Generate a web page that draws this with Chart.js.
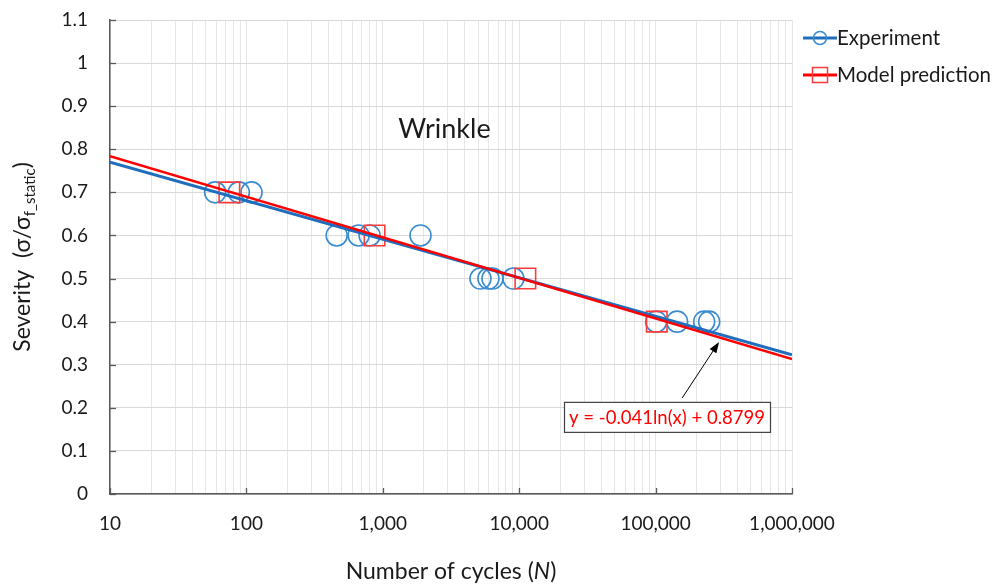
<!DOCTYPE html>
<html><head><meta charset="utf-8">
<script src="https://cdn.jsdelivr.net/npm/chart.js@4.4.1/dist/chart.umd.min.js"></script>
<style>html,body{margin:0;padding:0;background:#fff}#wrap{width:1000px;height:587px}</style>
</head><body><div id="wrap"><canvas id="c" width="1000" height="587"></canvas></div>
<script>
// ---- data ----
const expCycles   = [59, 88, 109, 459, 665, 800, 1890, 5200, 5950, 6370, 9070, 100900, 143800, 227000, 247000];
const expSeverity = [0.7, 0.7, 0.7, 0.6, 0.6, 0.6, 0.6, 0.5, 0.5, 0.5, 0.5, 0.4, 0.4, 0.4, 0.4];
const modelCycles   = [75, 870, 11100, 102000];
const modelSeverity = [0.7, 0.6, 0.5, 0.4];
const trendCycles   = [10, 1000000];
const expTrend      = [0.770, 0.323];
const modelTrend    = [0.784, 0.313];
const xDecades    = [10, 100, 1000, 10000, 100000, 1000000];
const xTickLabels = ['10', '100', '1,000', '10,000', '100,000', '1,000,000'];
const yTickValues = [0, 0.1, 0.2, 0.3, 0.4, 0.5, 0.6, 0.7, 0.8, 0.9, 1.0, 1.1];
const seriesNames = ['Experiment', 'Model prediction'];
const annotationText = 'Wrinkle';
const equationText = 'y = -0.041ln(x) + 0.8799';

const FONT = 'Lato, "Open Sans", sans-serif';
const BLUE_PT = '#3a8bd0', BLUE_LN = '#1f6ebd', RED = '#ff0000', RED_PT = '#ff3b3b';

const pts = (xs, ys) => xs.map((v, i) => ({x: v, y: ys[i]}));

const extras = {
  id: 'extras',
  afterDraw(chart) {
    const {ctx, chartArea: a, scales: {x, y}} = chart;
    ctx.save();
    // inward tick marks
    ctx.strokeStyle = '#595959'; ctx.lineWidth = 1.3;
    yTickValues.forEach(v => { const py = Math.round(y.getPixelForValue(v)) + 0.5;
      ctx.beginPath(); ctx.moveTo(a.left, py); ctx.lineTo(a.left + 6, py); ctx.stroke(); });
    xDecades.forEach(v => { const px = Math.round(x.getPixelForValue(v)) + 0.5;
      ctx.beginPath(); ctx.moveTo(px, a.bottom); ctx.lineTo(px, a.bottom - 6); ctx.stroke(); });

    ctx.fillStyle = '#1a1a1a'; ctx.textBaseline = 'alphabetic';
    // x title with italic N
    const XF = 23;
    ctx.font = XF + 'px ' + FONT;
    const p1 = 'Number of cycles (', p3 = ')';
    const w1 = ctx.measureText(p1).width, w3 = ctx.measureText(p3).width;
    ctx.font = 'italic ' + XF + 'px ' + FONT; const w2 = ctx.measureText('N').width;
    const tot = w1 + w2 + w3; let sx = (a.left + a.right) / 2 - tot / 2; const ty = 579;
    ctx.font = XF + 'px ' + FONT; ctx.textAlign = 'left'; ctx.fillText(p1, sx, ty);
    ctx.font = 'italic ' + XF + 'px ' + FONT; ctx.fillText('N', sx + w1, ty);
    ctx.font = XF + 'px ' + FONT; ctx.fillText(p3, sx + w1 + w2, ty);

    // y title with subscript
    ctx.save();
    ctx.translate(30, (a.top + a.bottom) / 2); ctx.rotate(-Math.PI / 2);
    const m1 = 'Severity  (σ/σ', sub = 'f_static', m3 = ')';
    ctx.font = '23px ' + FONT; const v1 = ctx.measureText(m1).width, v3 = ctx.measureText(m3).width;
    ctx.font = '15px ' + FONT; const v2 = ctx.measureText(sub).width;
    let s = -(v1 + v2 + v3) / 2;
    ctx.font = '23px ' + FONT; ctx.fillText(m1, s, 0);
    ctx.font = '15px ' + FONT; ctx.fillText(sub, s + v1, 5);
    ctx.font = '23px ' + FONT; ctx.fillText(m3, s + v1 + v2, 0);
    ctx.restore();

    // Wrinkle label
    ctx.font = '27px ' + FONT; ctx.textAlign = 'center'; ctx.textBaseline = 'middle';
    ctx.fillText(annotationText, x.getPixelForValue(2830), y.getPixelForValue(0.846));

    // equation box
    const by = y.getPixelForValue(0.179);
    ctx.fillStyle = '#fff'; ctx.fillRect(564, by - 15, 206, 30);
    ctx.strokeStyle = '#404040'; ctx.lineWidth = 1.2; ctx.strokeRect(564.5, by - 15 + 0.5, 206, 30);
    ctx.fillStyle = RED; ctx.font = '18.5px ' + FONT;
    ctx.fillText(equationText, 667, by + 1);

    // arrow
    const tx = x.getPixelForValue(156700), tyy = y.getPixelForValue(0.223);
    const hx = x.getPixelForValue(292000), hy = y.getPixelForValue(0.353);
    const ang = Math.atan2(hy - tyy, hx - tx);
    ctx.strokeStyle = '#000'; ctx.lineWidth = 1;
    ctx.beginPath(); ctx.moveTo(tx, tyy); ctx.lineTo(hx - 8 * Math.cos(ang), hy - 8 * Math.sin(ang)); ctx.stroke();
    ctx.fillStyle = '#000'; ctx.beginPath();
    ctx.moveTo(hx, hy);
    ctx.lineTo(hx - 11 * Math.cos(ang) + 4 * Math.sin(ang), hy - 11 * Math.sin(ang) - 4 * Math.cos(ang));
    ctx.lineTo(hx - 11 * Math.cos(ang) - 4 * Math.sin(ang), hy - 11 * Math.sin(ang) + 4 * Math.cos(ang));
    ctx.closePath(); ctx.fill();

    // legend
    ctx.textAlign = 'left'; ctx.textBaseline = 'middle'; ctx.font = '20.5px ' + FONT;
    const ly = [38, 75];
    ctx.strokeStyle = BLUE_LN; ctx.lineWidth = 3;
    ctx.beginPath(); ctx.moveTo(803, ly[0]); ctx.lineTo(837, ly[0]); ctx.stroke();
    ctx.strokeStyle = BLUE_PT; ctx.lineWidth = 1.5;
    ctx.beginPath(); ctx.arc(820, ly[0], 6.5, 0, Math.PI * 2); ctx.stroke();
    ctx.fillStyle = '#1a1a1a'; ctx.fillText(seriesNames[0], 837, ly[0]);
    ctx.strokeStyle = RED; ctx.lineWidth = 3;
    ctx.beginPath(); ctx.moveTo(803, ly[1]); ctx.lineTo(837, ly[1]); ctx.stroke();
    ctx.strokeStyle = RED_PT; ctx.lineWidth = 1.5;
    ctx.strokeRect(812.5, ly[1] - 7.5, 15, 15);
    ctx.fillStyle = '#1a1a1a'; ctx.fillText(seriesNames[1], 837, ly[1]);
    ctx.restore();
  }
};

const minorTicks = [];
xDecades.forEach((d, i) => { if (i < xDecades.length - 1) { for (let k = 1; k <= 9; k++) minorTicks.push(d * k); } else minorTicks.push(d); });

new Chart(document.getElementById('c'), {
  type: 'scatter',
  data: {
    datasets: [
      {label: seriesNames[0], data: pts(expCycles, expSeverity), pointStyle: 'circle', pointRadius: 10.5,
       borderColor: BLUE_PT, backgroundColor: 'rgba(0,0,0,0)', borderWidth: 1.6, order: 5},
      {label: seriesNames[1], data: pts(modelCycles, modelSeverity), pointStyle: 'rect', pointRadius: 14.5,
       borderColor: RED_PT, backgroundColor: 'rgba(0,0,0,0)', borderWidth: 1.6, order: 4},
      {label: 'exp trend', data: pts(trendCycles, expTrend), showLine: true, pointRadius: 0,
       borderColor: BLUE_LN, borderWidth: 3, order: 2},
      {label: 'model trend', data: pts(trendCycles, modelTrend), showLine: true, pointRadius: 0,
       borderColor: RED, borderWidth: 2.5, order: 1}
    ]
  },
  options: {
    responsive: false, animation: false, devicePixelRatio: 1,
    layout: {padding: {top: 20, right: 208, left: 0, bottom: 0}},
    plugins: {legend: {display: false}, tooltip: {enabled: false}},
    scales: {
      x: {
        type: 'logarithmic', min: 10, max: 1000000,
        afterBuildTicks: s => { s.ticks = minorTicks.map(v => ({value: v, major: xDecades.includes(v)})); },
        afterFit: s => { s.height = 93; s.paddingLeft = 0; s.paddingRight = 0; },
        ticks: {autoSkip: false, maxRotation: 0, padding: 18, color: '#1a1a1a', font: {family: FONT, size: 19},
          callback: v => { const i = xDecades.indexOf(v); return i >= 0 ? xTickLabels[i] : ''; }},
        grid: {color: '#e6e6e6', lineWidth: 1, drawTicks: false},
        border: {color: '#595959', width: 1.5}
      },
      y: {
        min: 0, max: 1.1,
        afterBuildTicks: s => { s.ticks = yTickValues.map(v => ({value: v})); },
        afterFit: s => { s.width = 110; s.paddingTop = 0; s.paddingBottom = 0; },
        ticks: {padding: 22, color: '#1a1a1a', font: {family: FONT, size: 19},
          callback: v => String(Math.round(v * 10) / 10)},
        grid: {color: '#d9d9d9', lineWidth: 1, drawTicks: false},
        border: {color: '#595959', width: 1.5}
      }
    }
  },
  plugins: [extras]
});
</script></body></html>
